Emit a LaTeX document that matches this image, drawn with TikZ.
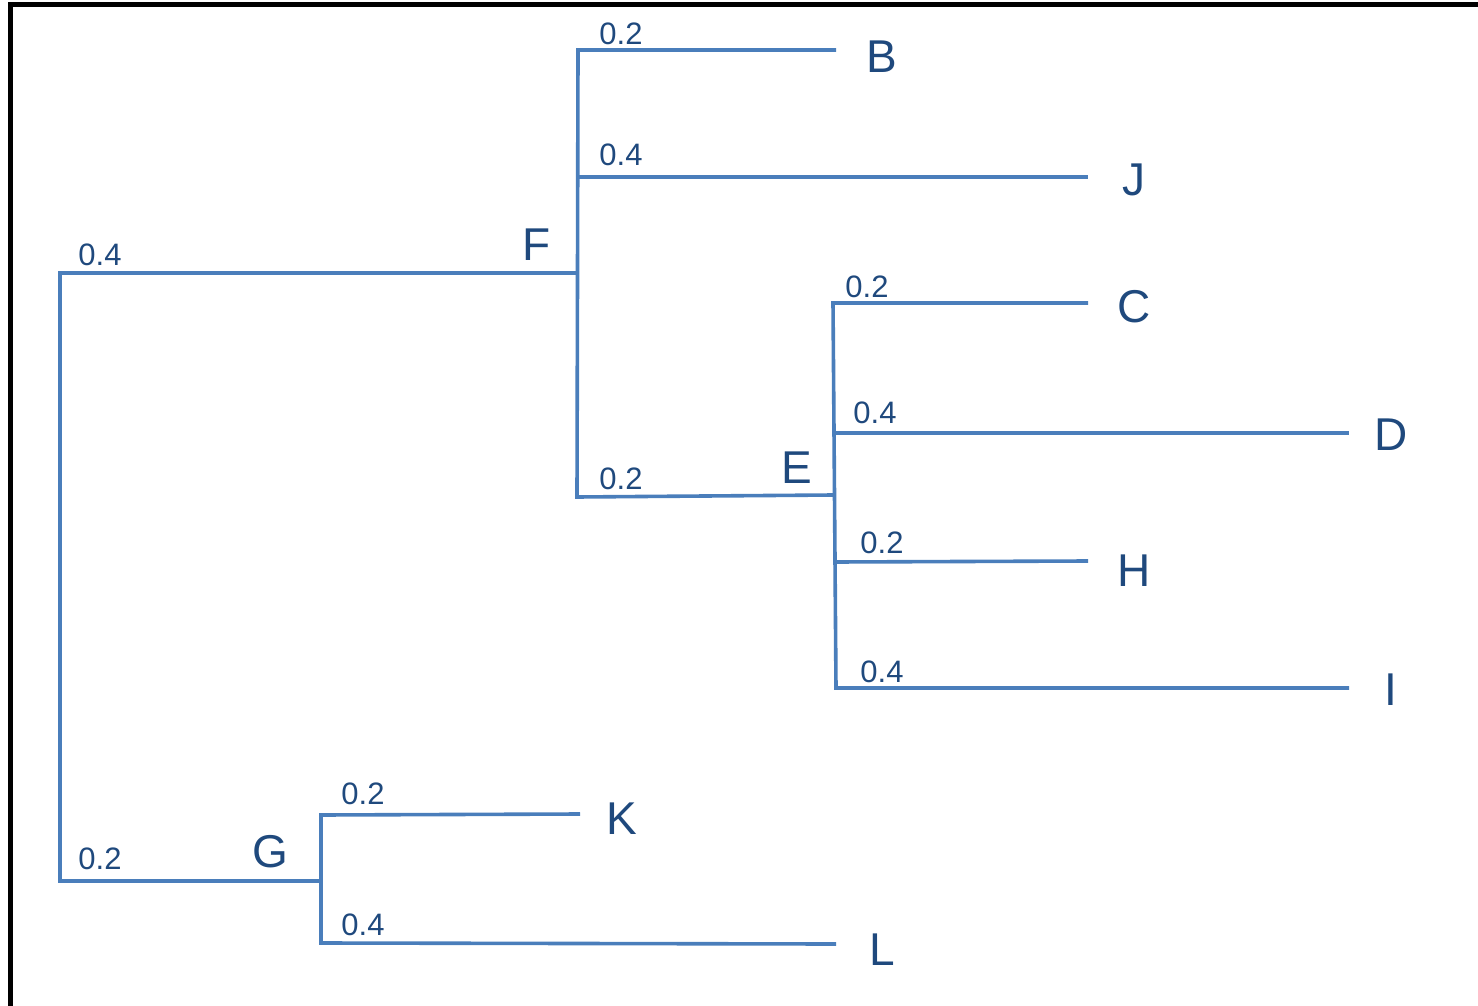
\documentclass[tikz,border=0pt]{standalone}
\usepackage{fontspec}
\setmainfont{Liberation Sans}
\definecolor{branch}{HTML}{4A7EBB}
\definecolor{labtxt}{HTML}{1F497D}
\begin{document}
\begin{tikzpicture}[x=0.5pt,y=-0.5pt,
  edge/.style={draw=branch,line width=1.8pt},
  leaf/.style={text=labtxt,inner sep=0pt,font=\fontsize{23}{23}\selectfont},
  wt/.style={text=labtxt,inner sep=0pt,font=\fontsize{15.5}{15.5}\selectfont}]
\useasboundingbox (0,0) rectangle (1478,1006);
\draw[line width=2.5pt,black] (10.5,1010) -- (10.5,5) -- (1482,5);
% junction coordinates
\coordinate (r1) at (60,273);
\coordinate (r2) at (60,881);
\coordinate (f0) at (577,273);
\coordinate (fB) at (578,50);
\coordinate (fJ) at (578,177);
\coordinate (fE) at (577,497);
\coordinate (e0) at (833,495);
\coordinate (eC) at (833,303);
\coordinate (eD) at (834,433);
\coordinate (eH) at (835,562);
\coordinate (eI) at (836,688);
\coordinate (g0) at (321,881);
\coordinate (gK) at (321,815);
\coordinate (gL) at (321,943);
\coordinate (tB) at (836,50);
\coordinate (tJ) at (1088,177);
\coordinate (tC) at (1088,303);
\coordinate (tD) at (1349,433);
\coordinate (tH) at (1088,561);
\coordinate (tI) at (1349,688);
\coordinate (tK) at (580,814);
\coordinate (tL) at (836,944);
% labels
\node[leaf] (B) at (882,57) {B};
\node[leaf] (J) at (1134,180) {J};
\node[leaf] (C) at (1134,307) {C};
\node[leaf] (D) at (1391,435) {D};
\node[leaf] (H) at (1134,571) {H};
\node[leaf] (I) at (1391,690) {I};
\node[leaf] (K) at (622,819) {K};
\node[leaf] (L) at (882,950) {L};
\node[leaf] (F) at (537,245) {F};
\node[leaf] (E) at (797,468) {E};
\node[leaf] (G) at (270,852) {G};
% weights
\node[wt] (w1) at (100,255) {0.4};
\node[wt] (w2) at (100,859) {0.2};
\node[wt] (w3) at (621,34) {0.2};
\node[wt] (w4) at (621,155) {0.4};
\node[wt] (w5) at (621,479) {0.2};
\node[wt] (w6) at (867,287) {0.2};
\node[wt] (w7) at (875,413) {0.4};
\node[wt] (w8) at (882,543) {0.2};
\node[wt] (w9) at (882,672) {0.4};
\node[wt] (w10) at (363,794) {0.2};
\node[wt] (w11) at (363,925) {0.4};
% branches
\draw[edge] (f0) -- (r1) -- (r2) -- (g0);
\draw[edge] (tB) -- (fB) -- (fE) -- (e0);
\draw[edge] (fJ) -- (tJ);
\draw[edge] (tC) -- (eC) -- (eI) -- (tI);
\draw[edge] (eD) -- (tD);
\draw[edge] (eH) -- (tH);
\draw[edge] (tK) -- (gK) -- (gL) -- (tL);
\end{tikzpicture}
\end{document}
